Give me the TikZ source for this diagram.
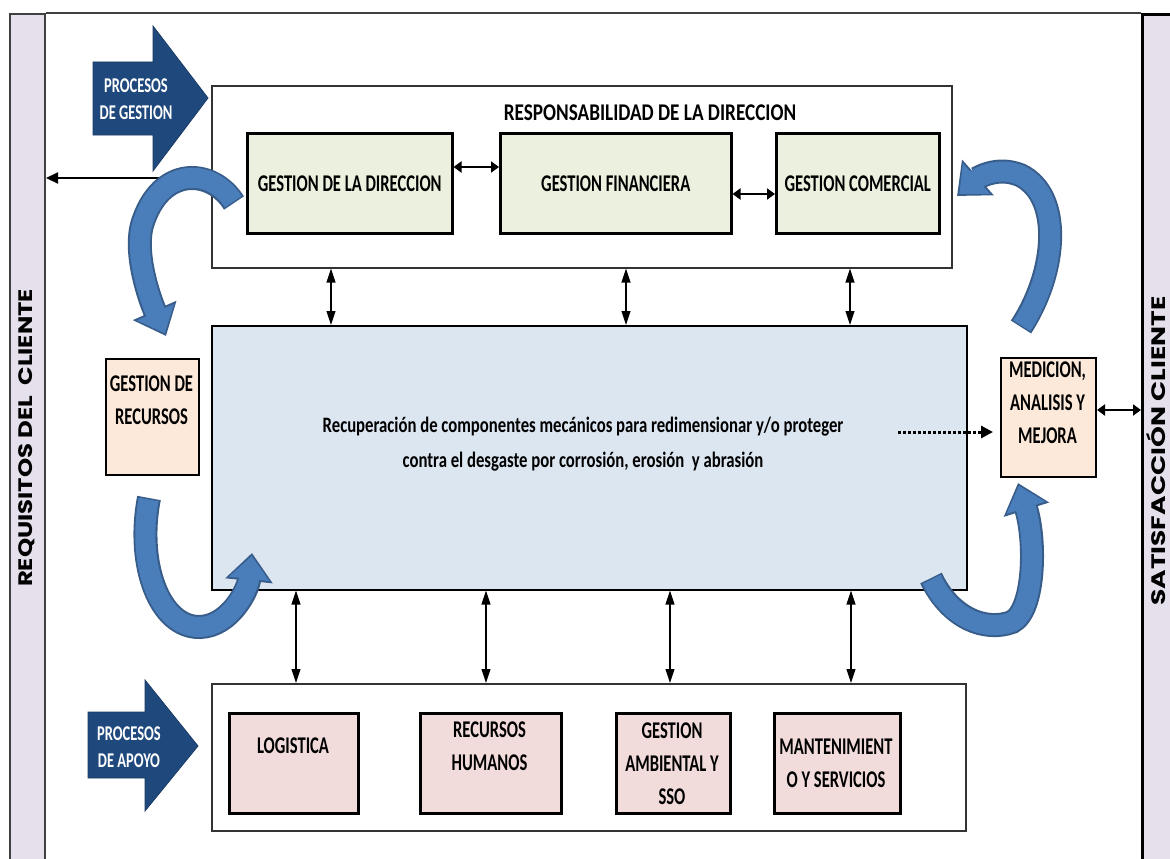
\documentclass[tikz,border=0pt]{standalone}
\usepackage{fontspec}
\usepackage{graphicx}
\usetikzlibrary{arrows.meta}
\newfontfamily\cond[FakeStretch=0.69]{Carlito}
\newfontfamily\condm[FakeStretch=0.76]{Carlito}
\newfontfamily\condw[FakeStretch=0.8]{Carlito}
\newfontfamily\geo{Poppins}
\definecolor{boxgreen}{HTML}{EBF1DE}
\definecolor{boxpeach}{HTML}{FDE9D9}
\definecolor{boxpink}{HTML}{F2DCDB}
\definecolor{boxblue}{HTML}{DCE6F1}
\definecolor{barlav}{HTML}{E5E0EC}
\definecolor{navy}{HTML}{1F497D}
\definecolor{curvefill}{HTML}{4A7EBB}
\definecolor{curveedge}{HTML}{385D8A}
\begin{document}
\begin{tikzpicture}[x=1pt,y=-1pt,
  panel/.style={draw=black!80, line width=1.5pt, fill=white, inner sep=0pt, anchor=north west},
  unit/.style={draw=black, line width=2.5pt, inner sep=0pt, anchor=north west},
  lbl/.style={font=\cond\bfseries\fontsize{24}{33}\selectfont, align=center, inner sep=0pt},
  wlbl/.style={font=\cond\bfseries\fontsize{21}{27}\selectfont, align=center, inner sep=0pt, text=white},
  sidetxt/.style={font=\geo\bfseries\fontsize{19.5}{20}\selectfont, rotate=90, inner sep=0pt},
  link/.style={draw=black, line width=1.1pt, {Triangle[length=14pt,width=9pt]}-{Triangle[length=14pt,width=9pt]}},
  bilink/.style={draw=black, line width=2.6pt, {Triangle[length=8pt,width=11pt]}-{Triangle[length=8pt,width=11pt]}},
  bendout/.style={draw=curveedge, line width=24pt, -{Triangle[length=28pt,width=46pt]}},
  bendin/.style={draw=curvefill, line width=20pt, shorten >=3pt, shorten <=1.5pt, -{Triangle[length=23pt,width=39pt]}},
  blockarrow/.style={fill=navy, draw=navy!80!black, line width=0.8pt}
]
\useasboundingbox (0,0) rectangle (1170,859);

% side bars
\node[draw=black!75, line width=2pt, fill=barlav, minimum width=35pt, minimum height=860pt, inner sep=0pt, anchor=north west] (lbar) at (9,13) {};
\node[draw=black, line width=3pt, fill=barlav, minimum width=45pt, minimum height=860pt, inner sep=0pt, anchor=north west] (rbar) at (1141,13) {};
\draw[black!75, line width=1.5pt] (lbar.north east) -- (rbar.north west);
\node[sidetxt] (req) at (27,438) {\scalebox{1.25}[1]{REQUISITOS DEL\ \ CLIENTE}};
\node[sidetxt] (sat) at (1156,451) {\scalebox{1.36}[1]{SATISFACCIÓN CLIENTE}};

% management processes
\node[panel, minimum width=740pt, minimum height=182pt] (topbox) at (211,85) {};
\node[lbl, font=\condw\bfseries\fontsize{24}{33}\selectfont] (ttl) at (650,113) {RESPONSABILIDAD DE LA DIRECCION};
\node[unit, fill=boxgreen, minimum width=205pt, minimum height=100pt] (gd) at (246,132) {};
\node[unit, fill=boxgreen, minimum width=231pt, minimum height=100pt] (gf) at (499,132) {};
\node[unit, fill=boxgreen, minimum width=163pt, minimum height=100pt] (gc) at (775,132) {};
\node[lbl] (gdt) at (gd.center) {GESTION DE LA DIRECCION};
\node[lbl] (gft) at (gf.center) {GESTION FINANCIERA};
\node[lbl] (gct) at (gc.center) {GESTION COMERCIAL};

% core process
\node[panel, draw=black, fill=boxblue, minimum width=755pt, minimum height=264pt] (mainbox) at (211,325) {};
\node[lbl, font=\condm\bfseries\fontsize{22}{35}\selectfont] (maint) at (583,444) {Recuperación de componentes mecánicos para redimensionar y/o proteger\\contra el desgaste por corrosión, erosión\ \ y abrasión};

% support processes
\node[panel, minimum width=754pt, minimum height=147pt] (botbox) at (211,683) {};
\node[unit, fill=boxpink, minimum width=129pt, minimum height=100pt] (log) at (228,712) {};
\node[unit, fill=boxpink, minimum width=141pt, minimum height=100pt] (rh) at (419,712) {};
\node[unit, fill=boxpink, minimum width=114pt, minimum height=100pt] (ga) at (615,712) {};
\node[unit, fill=boxpink, minimum width=126pt, minimum height=100pt] (mt) at (773,712) {};
\node[lbl] (logt) at (293,746) {LOGISTICA};
\node[lbl] (rht) at (489.5,746) {RECURSOS\\HUMANOS};
\node[lbl] (gat) at (672,763.5) {GESTION\\AMBIENTAL Y\\SSO};
\node[lbl] (mtt) at (836,763) {MANTENIMIENT\\O Y SERVICIOS};

% resources and measurement
\node[unit, line width=2pt, fill=boxpeach, minimum width=93pt, minimum height=116pt] (gr) at (105,358) {};
\node[unit, line width=2pt, fill=boxpeach, minimum width=95pt, minimum height=119pt] (med) at (1000,357) {};
\node[lbl] (grt) at (151.5,400) {GESTION DE\\RECURSOS};
\node[lbl] (medt) at (1047.5,403) {MEDICION,\\ANALISIS Y\\MEJORA};

% block arrows
\draw[blockarrow] (93,62) -- (153,62) -- (153,26) -- (208,98) -- (153,171) -- (153,135) -- (93,135) -- cycle;
\node[wlbl] (pgt) at (136,99.5) {PROCESOS\\DE GESTION};
\draw[blockarrow] (88,712) -- (145,712) -- (145,680) -- (198,746) -- (145,811) -- (145,778) -- (88,778) -- cycle;
\node[wlbl] (pat) at (129,747.5) {PROCESOS\\DE APOYO};

% connectors
\coordinate (v1) at (331,0);
\coordinate (v2) at (626,0);
\coordinate (v3) at (850,0);
\coordinate (w1) at (296,0);
\coordinate (w2) at (486,0);
\coordinate (w3) at (670,0);
\coordinate (w4) at (851,0);
\foreach \c in {v1,v2,v3} \draw[link] (\c |- topbox.south) -- (\c |- mainbox.north);
\foreach \c in {w1,w2,w3,w4} \draw[link] (\c |- mainbox.south) -- (\c |- botbox.north);
\coordinate (h1) at (0,167);
\coordinate (h2) at (0,194);
\coordinate (h0) at (0,178);
\coordinate (h4) at (0,410);
\draw[bilink] (gd.east |- h1) -- (gf.west |- h1);
\draw[bilink] (gf.east |- h2) -- (gc.west |- h2);
\draw[bilink] (med.east |- h4) -- (rbar.west |- h4);
\draw[draw=black, line width=2pt, -{Triangle[length=12pt,width=11pt]}] (topbox.west |- h0) -- (lbar.east |- h0);
\coordinate (dots) at (898,432);
\draw[draw=black, line width=3pt, dotted, -{Triangle[length=12pt,width=12pt]}, shorten >=7pt] (dots) -- (med.west |- dots);

% curved flow arrows
\foreach \s in {bendout,bendin}{
  \draw[\s] (234,203) .. controls (212,168) and (160,165) .. (142,225) .. controls (134,255) and (150,300) .. (166,336);
  \draw[\s] (149,498) .. controls (136,565) and (160,628) .. (200,627) .. controls (230,626) and (248,590) .. (252,553);
  \draw[\s] (1021,327) .. controls (1058,270) and (1062,195) .. (1020,175) .. controls (995,165) and (975,180) .. (957,196);
  \draw[\s] (931,578) .. controls (950,618) and (985,632) .. (1012,622) .. controls (1035,610) and (1036,540) .. (1018,483);
}
\end{tikzpicture}
\end{document}
